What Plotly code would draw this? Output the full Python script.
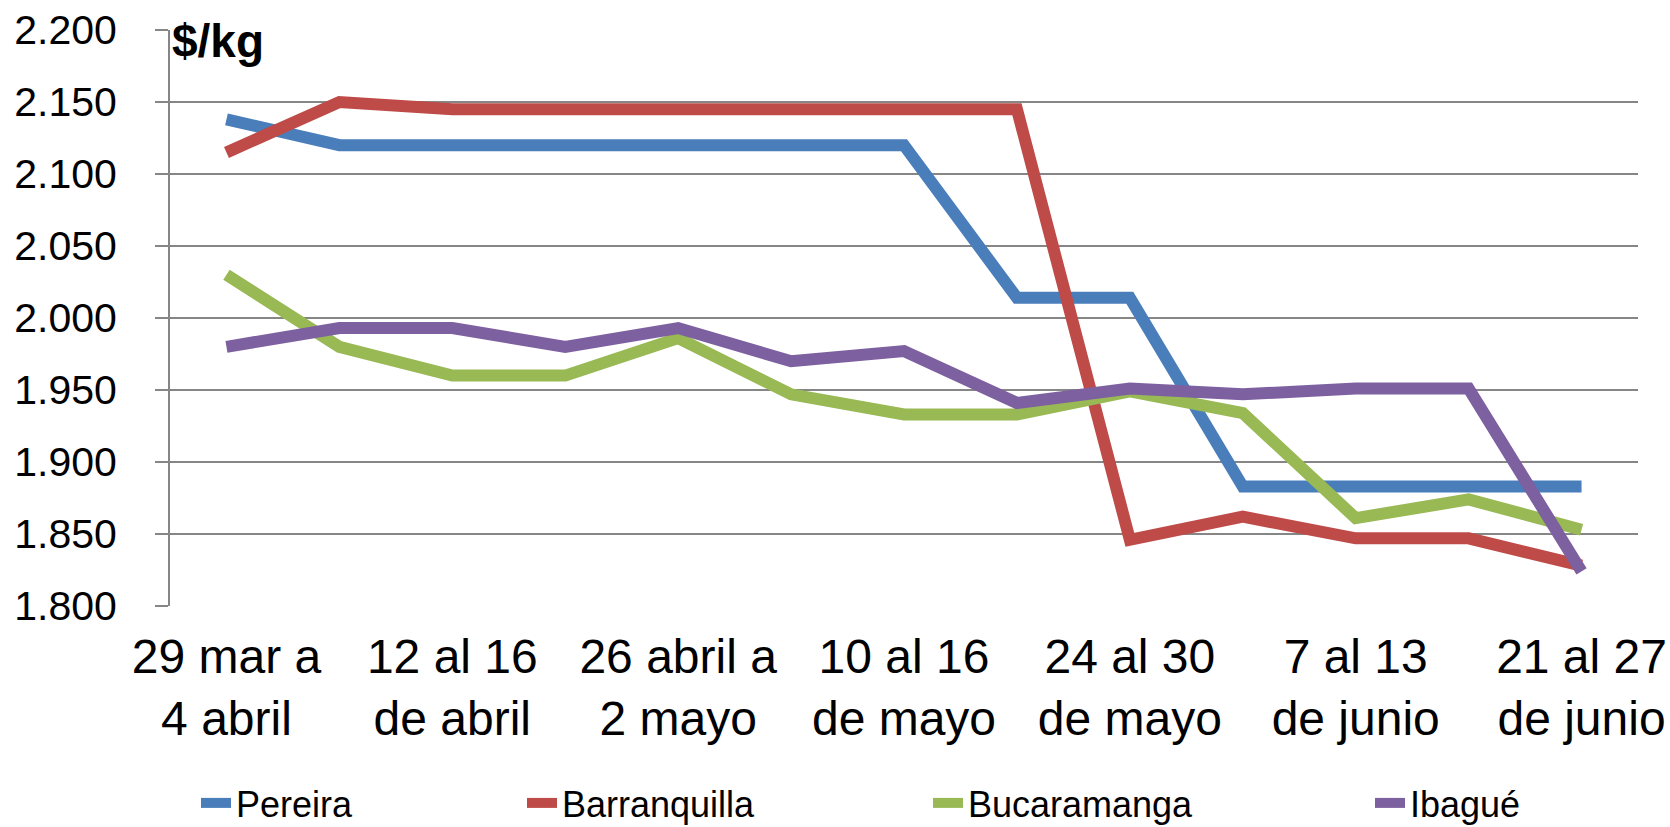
import plotly.graph_objects as go

# ── Data ────────────────────────────────────────────────────────────────────────
weeks = [
    "29 mar a<br>4 abril", "5 al 11<br>de abril", "12 al 16<br>de abril",
    "19 al 25<br>de abril", "26 abril a<br>2 mayo", "3 al 9<br>de mayo",
    "10 al 16<br>de mayo", "17 al 23<br>de mayo", "24 al 30<br>de mayo",
    "31 mayo a<br>6 junio", "7 al 13<br>de junio", "14 al 20<br>de junio",
    "21 al 27<br>de junio",
]
pereira = [2138, 2120, 2120, 2120, 2120, 2120, 2120, 2014, 2014, 1883, 1883, 1883, 1883]
barranquilla = [2115, 2150, 2145, 2145, 2145, 2145, 2145, 2145, 1846, 1862, 1847, 1847, 1828]
bucaramanga = [2030, 1980, 1960, 1960, 1986, 1947, 1933, 1933, 1949, 1934, 1861, 1874, 1853]
ibague = [1980, 1993, 1993, 1980, 1993, 1970, 1977, 1941, 1951, 1947, 1951, 1951, 1824]

series = [
    ("Pereira", pereira, "#4A7EBB", "legend", 238),
    ("Barranquilla", barranquilla, "#BE4B48", "legend2", 564),
    ("Bucaramanga", bucaramanga, "#98B954", "legend3", 970),
    ("Ibagué", ibague, "#7D60A0", "legend4", 1412),
]

FONT = "Liberation Sans, Arial, sans-serif"

fig = go.Figure()
for name, vals, color, leg, _ in series:
    fig.add_trace(go.Scatter(
        x=weeks, y=vals, name=name, mode="lines",
        line=dict(color=color, width=12),
        legend=leg,
    ))

legend_style = dict(
    orientation="h", xref="container", yref="container",
    yanchor="middle", y=(827 - 803) / 827, xanchor="left",
    font=dict(family=FONT, size=36, color="#000000"),
    bgcolor="rgba(0,0,0,0)", itemwidth=30,
)
legends = {}
for _, _, _, leg, text_x in series:
    legends[leg] = dict(**legend_style, x=(text_x - 42) / 1670)

fig.update_layout(
    width=1670, height=827,
    paper_bgcolor="white", plot_bgcolor="white",
    margin=dict(l=170, r=32, t=30, b=221),
    separators=",.",
    font=dict(family=FONT, color="#000000"),
    showlegend=True,
    xaxis=dict(
        type="category", range=[-0.5, 12.5], automargin=False,
        tickvals=weeks[::2], ticktext=weeks[::2],
        tickfont=dict(size=48), tickangle=0, ticklabelstandoff=18,
        showgrid=False, showline=False, zeroline=False, ticks="",
    ),
    yaxis=dict(
        range=[1800, 2200], dtick=50, tickformat=",d", automargin=False,
        tickfont=dict(size=41),
        showgrid=True, gridcolor="#868686", gridwidth=2,
        showline=True, linecolor="#868686", linewidth=2,
        ticks="outside", ticklen=13, tickcolor="#868686", tickwidth=2,
        ticklabelstandoff=30, zeroline=False,
    ),
    annotations=[dict(
        text="<b>$/kg</b>", xref="paper", yref="paper", x=0.0, y=1.03,
        xanchor="left", yanchor="top", showarrow=False,
        font=dict(family=FONT, size=46, color="#000000"),
    )],
    **legends,
)

# page body margin would shift the 1670x827 figure, so drop it
fig.write_html(
    "out.html",
    config={"displayModeBar": False},
    post_script="document.body.style.margin='0px';",
)
